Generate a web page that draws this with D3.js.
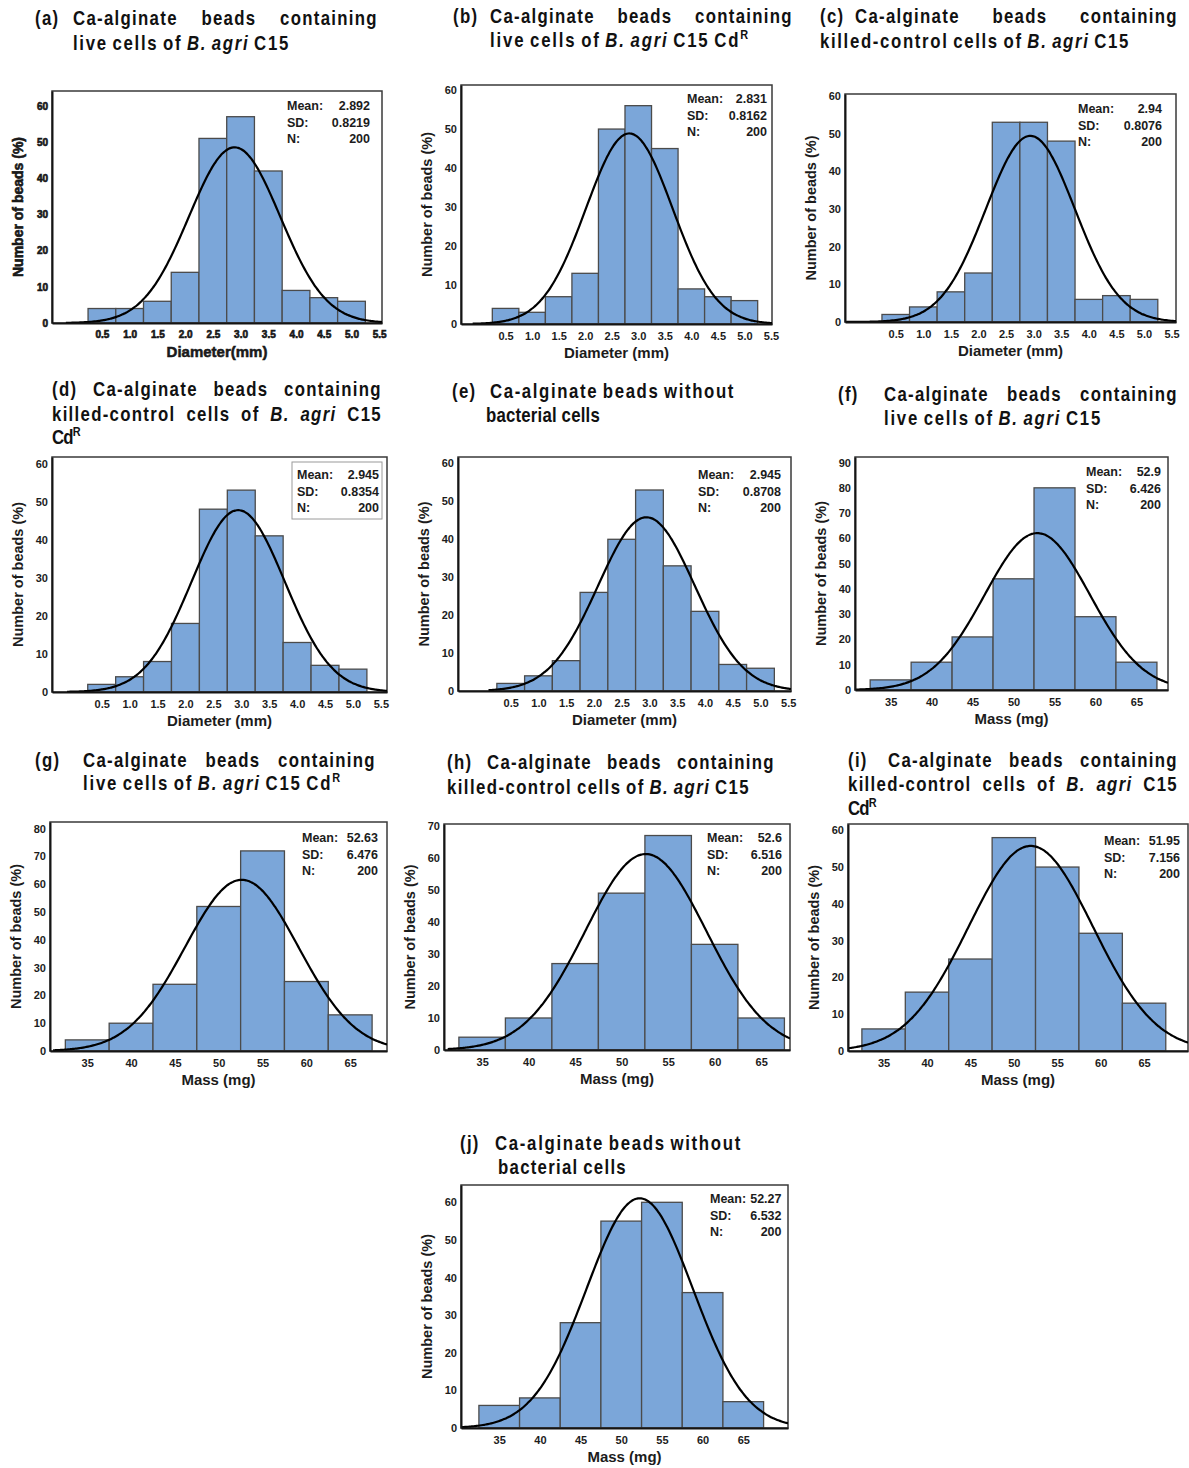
<!DOCTYPE html>
<meta charset="utf-8">
<style>

body {
  margin: 0;
  background: #fff;
}

svg { display: block; }

.tick text, .stat, .axis-title {
  font-family: "Liberation Sans", Arial, sans-serif;
  font-weight: bold;
  fill: #1c1c1c;
}

.title {
  font-family: "Liberation Sans", Arial, sans-serif;
  font-weight: bold;
  font-size: 20px;
  fill: #111;
}

</style>
<body>

<script src="https://cdnjs.cloudflare.com/ajax/libs/d3/7.8.5/d3.min.js"></script>
<script>

// bin centres and tick values
var diameterBins = [0.5, 1.0, 1.5, 2.0, 2.5, 3.0, 3.5, 4.0, 4.5, 5.0];
var massBins = [35, 40, 45, 50, 55, 60, 65];
var diameterTicks = [0.5, 1.0, 1.5, 2.0, 2.5, 3.0, 3.5, 4.0, 4.5, 5.0, 5.5];
var massTicks = [35, 40, 45, 50, 55, 60, 65];

// bead counts per bin (N = 200 each)
var countsA = [4, 4, 6, 14, 51, 57, 42, 9, 7, 6];
var countsB = [4, 3, 7, 13, 50, 56, 45, 9, 7, 6];
var countsC = [2, 4, 8, 13, 53, 53, 48, 6, 7, 6];
var countsD = [2, 4, 8, 18, 48, 53, 41, 13, 7, 6];
var countsE = [2, 4, 8, 26, 40, 53, 33, 21, 7, 6];
var countsF = [4, 11, 21, 44, 80, 29, 11];
var countsG = [4, 10, 24, 52, 72, 25, 13];
var countsH = [4, 10, 27, 49, 67, 33, 10];
var countsI = [6, 16, 25, 58, 50, 32, 13];
var countsJ = [6, 8, 28, 55, 60, 36, 7];
var counts = [countsA, countsB, countsC, countsD, countsE, countsF, countsG, countsH, countsI, countsJ];

// summary statistics shown in each panel
var meanText = ["2.892", "2.831", "2.94", "2.945", "2.945", "52.9", "52.63", "52.6", "51.95", "52.27"];
var sdText = ["0.8219", "0.8162", "0.8076", "0.8354", "0.8708", "6.426", "6.476", "6.516", "7.156", "6.532"];
var nText = "200";
var yTickMax = [60, 60, 60, 60, 60, 90, 80, 70, 60, 60];
var curveFrom = [-0.15, -0.12, -0.4, -0.12, 0.1, 30.7, 31.1, 31.3, 30.9, 30.4];

var xTitles = ["Diameter(mm)", "Diameter (mm)", "Diameter (mm)", "Diameter (mm)", "Diameter (mm)",
  "Mass (mg)", "Mass (mg)", "Mass (mg)", "Mass (mg)", "Mass (mg)"];
var yTitle = "Number of beads (%)";

var tags = ["(a)", "(b)", "(c)", "(d)", "(e)", "(f)", "(g)", "(h)", "(i)", "(j)"];
var titleLines = [
  ["Ca-alginate beads containing", "live cells of _B._ _agri_ C15"],
  ["Ca-alginate beads containing", "live cells of _B._ _agri_ C15 Cd^R"],
  ["Ca-alginate beads containing", "killed-control cells of _B._ _agri_ C15"],
  ["Ca-alginate beads containing", "killed-control cells of _B._ _agri_ C15", "Cd^R"],
  ["Ca-alginate beads without", "bacterial cells"],
  ["Ca-alginate beads containing", "live cells of _B._ _agri_ C15"],
  ["Ca-alginate beads containing", "live cells of _B._ _agri_ C15 Cd^R"],
  ["Ca-alginate beads containing", "killed-control cells of _B._ _agri_ C15"],
  ["Ca-alginate beads containing", "killed-control cells of _B._ _agri_ C15", "Cd^R"],
  ["Ca-alginate beads without", "bacterial cells"]
];

// ---- layout (page pixels) ----
// frame: left, top, right, bottom
var frames = [
  [52, 91, 382, 323], [461, 85, 772, 324], [845, 94, 1176, 322],
  [52, 457, 387, 692], [458, 457, 791, 691], [855, 457, 1168, 690],
  [50, 822, 387, 1051], [444, 824, 790, 1050], [848, 824, 1188, 1051],
  [461, 1185, 788, 1428]
];
var xDomains = [[-0.40, 5.55], [-0.34, 5.52], [-0.42, 5.58], [-0.39, 5.61], [-0.45, 5.55],
  [30.65, 68.85], [30.75, 69.2], [30.9, 68.1], [30.9, 70.06], [30.3, 70.5]];
var yTops = [64.1, 61.3, 60.5, 61.7, 61.7, 92.2, 82.4, 70.6, 61.7, 64.6];
// stats: offset from top, label offset from right, value offset from right
var statPos = [[15, 95, 12], [14, 85, 5], [15, 98, 14], [18, 90, 8], [18, 93, 10],
  [15, 82, 7], [16, 85, 9], [14, 83, 8], [17, 84, 8], [14, 78, 6.5]];
// title: tag x, lines [x0, x1, baseline, justify]
var titlePos = [
  [35, [[73, 378, 25, true], [73, 290, 50, false]]],
  [453, [[490, 793, 23, true], [490, 750, 47, false]]],
  [820, [[855, 1178, 23, true], [820, 1130, 48, false]]],
  [52, [[93, 382, 396, true], [52, 382, 421, true], [52, 80, 444, false]]],
  [452, [[490, 735, 398, false], [486, 600, 422, false]]],
  [838, [[884, 1178, 401, true], [884, 1102, 425, false]]],
  [35, [[83, 376, 767, true], [83, 342, 790, false]]],
  [447, [[487, 775, 769, true], [447, 750, 794, false]]],
  [848, [[888, 1178, 767, true], [848, 1178, 791, true], [848, 876, 815, false]]],
  [460, [[495, 742, 1150, false], [498, 627, 1174, false]]]
];
var titleSqueeze = 0.84;

var svg = d3.select("body").append("svg")
    .attr("width", 1189)
    .attr("height", 1468);

function normal(x, m, s) {
  return Math.exp(-0.5 * Math.pow((x - m) / s, 2)) / (s * Math.sqrt(2 * Math.PI));
}

counts.forEach(function (data, i) {
  var f = frames[i];
  var isDia = i < 5;
  var bins = isDia ? diameterBins : massBins;
  var bw = isDia ? 0.5 : 5;
  var heavy = i === 0;

  var x = d3.scaleLinear().domain(xDomains[i]).range([f[0], f[2]]);
  var y = d3.scaleLinear().domain([0, yTops[i]]).range([f[3], f[1]]);

  var g = svg.append("g");

  g.append("clipPath").attr("id", "clip" + i)
    .append("rect")
      .attr("x", f[0]).attr("y", f[1])
      .attr("width", f[2] - f[0]).attr("height", f[3] - f[1]);

  g.selectAll("rect.bar")
      .data(data)
    .enter().append("rect")
      .attr("class", "bar")
      .attr("x", function (d, k) { return x(bins[k] - bw / 2); })
      .attr("width", function (d, k) { return x(bins[k] + bw / 2) - x(bins[k] - bw / 2); })
      .attr("y", function (d) { return y(d); })
      .attr("height", function (d) { return y(0) - y(d); })
      .attr("fill", "#7ba6d9")
      .attr("stroke", "#4b4b4b")
      .attr("stroke-width", 1.3);

  // fitted normal curve from the panel's mean / SD / N
  var m = +meanText[i], s = +sdText[i], n = +nText;
  var x0 = curveFrom[i], x1 = xDomains[i][1];
  var pts = d3.range(0, 201).map(function (k) {
    var v = x0 + (x1 - x0) * k / 200;
    return [v, n * bw * normal(v, m, s)];
  });
  var line = d3.line()
      .x(function (d) { return x(d[0]); })
      .y(function (d) { return y(d[1]); })
      .curve(d3.curveBasis);

  g.append("rect")
      .attr("x", f[0]).attr("y", f[1])
      .attr("width", f[2] - f[0]).attr("height", f[3] - f[1])
      .attr("fill", "none")
      .attr("stroke", "#3a3a3a")
      .attr("stroke-width", 1.5);

  g.append("path")
      .datum(pts)
      .attr("clip-path", "url(#clip" + i + ")")
      .attr("d", line)
      .attr("fill", "none")
      .attr("stroke", "#000")
      .attr("stroke-width", 2.2);

  var xAxis = d3.axisBottom(x)
      .tickValues(isDia ? diameterTicks : massTicks)
      .tickFormat(isDia ? d3.format(".1f") : d3.format("d"))
      .tickSize(0).tickSizeOuter(0).tickPadding(8);
  var yAxis = d3.axisLeft(y)
      .tickValues(d3.range(0, yTickMax[i] + 1, 10))
      .tickSize(0).tickSizeOuter(0).tickPadding(4);

  var gx = g.append("g")
      .attr("transform", "translate(0," + f[3] + ")")
      .call(xAxis);
  var gy = g.append("g")
      .attr("transform", "translate(" + f[0] + ",0)")
      .call(yAxis);

  [gx, gy].forEach(function (ax) {
    ax.attr("font-family", null).attr("font-size", null);
    ax.select(".domain").attr("stroke", "#151515").attr("stroke-width", 2);
    ax.selectAll(".tick text")
        .attr("font-size", heavy ? 10 : 11)
        .attr("stroke", heavy ? "#111" : null)
        .attr("stroke-width", heavy ? 0.6 : null);
  });

  // axis titles
  g.append("text")
      .attr("class", "axis-title")
      .attr("transform", "translate(" + (f[0] - 34) + "," + (f[1] + f[3]) / 2 + ")rotate(-90)")
      .attr("text-anchor", "middle")
      .attr("dy", "0.35em")
      .attr("font-size", heavy ? 14 : 14.5)
      .attr("stroke", heavy ? "#111" : null)
      .attr("stroke-width", heavy ? 0.6 : null)
      .text(yTitle);

  g.append("text")
      .attr("class", "axis-title")
      .attr("x", (f[0] + f[2]) / 2)
      .attr("y", f[3] + 34)
      .attr("text-anchor", "middle")
      .attr("font-size", 15)
      .attr("stroke", heavy ? "#111" : null)
      .attr("stroke-width", heavy ? 0.5 : null)
      .text(xTitles[i]);

  // stats block
  var sp = statPos[i];
  if (i === 3) {
    g.append("rect")
        .attr("x", f[2] - 95).attr("y", f[1] + 5)
        .attr("width", 90).attr("height", 57)
        .attr("fill", "#fff")
        .attr("stroke", "#9a9a9a")
        .attr("stroke-width", 1);
  }
  var rows = [["Mean:", meanText[i]], ["SD:", sdText[i]], ["N:", nText]];
  rows.forEach(function (r, k) {
    var yy = f[1] + sp[0] + k * 16.5 + 4.3;
    g.append("text").attr("class", "stat")
        .attr("x", f[2] - sp[1]).attr("y", yy)
        .attr("font-size", 12.5)
        .text(r[0]);
    g.append("text").attr("class", "stat")
        .attr("x", f[2] - sp[2]).attr("y", yy)
        .attr("text-anchor", "end")
        .attr("font-size", 12.5)
        .text(r[1]);
  });
});

// ---- titles (condensed bold, words spread to the measured line width) ----
function wordRuns(w) {
  var italic = false;
  if (w.charAt(0) === "_" && w.charAt(w.length - 1) === "_") {
    italic = true;
    w = w.slice(1, -1);
  }
  var parts = w.split("^");
  var runs = [{ text: parts[0], italic: italic }];
  if (parts[1]) runs.push({ text: parts[1], italic: italic, sup: true });
  return runs;
}

function makeWord(w) {
  var t = svg.append("text").attr("class", "title");
  wordRuns(w).forEach(function (r) {
    var ts = t.append("tspan").text(r.text);
    if (r.italic) ts.attr("font-style", "italic");
    if (r.sup) ts.attr("font-size", 13).attr("dy", -8);
  });
  return t;
}

function place(t, px, py, ls) {
  t.attr("transform", "translate(" + px + "," + py + ")scale(" + titleSqueeze + ",1)")
   .style("letter-spacing", (ls / titleSqueeze) + "px");
}

var probe = svg.append("text").attr("class", "title").text("a a");
var probe2 = svg.append("text").attr("class", "title").text("aa");
var spaceW = (probe.node().getComputedTextLength() - probe2.node().getComputedTextLength()) * titleSqueeze;
probe.remove(); probe2.remove();

function drawLine(text, pos) {
  var words = text.split(" ");
  var nodes = words.map(makeWord);
  var widths = nodes.map(function (t) { return t.node().getComputedTextLength() * titleSqueeze; });
  var chars = words.map(function (w) { return w.replace(/[_^]/g, "").length; });
  var sumW = d3.sum(widths), sumC = d3.sum(chars);
  var target = pos[1] - pos[0];
  var ls, gap;
  if (pos[3] && words.length > 1) {
    ls = 1.3;
    gap = (target - sumW - ls * sumC) / (words.length - 1);
  } else {
    ls = (target - sumW - spaceW * (words.length - 1)) / sumC;
    ls = Math.max(-1, Math.min(4, ls));
    gap = spaceW;
  }
  var cx = pos[0];
  nodes.forEach(function (t, k) {
    place(t, cx, pos[2], ls);
    cx += widths[k] + ls * chars[k] + gap;
  });
}

titleLines.forEach(function (lines, i) {
  var tp = titlePos[i];
  var tag = makeWord(tags[i]);
  place(tag, tp[0], tp[1][0][2], 1.3);
  lines.forEach(function (l, k) { drawLine(l, tp[1][k]); });
});

</script>
